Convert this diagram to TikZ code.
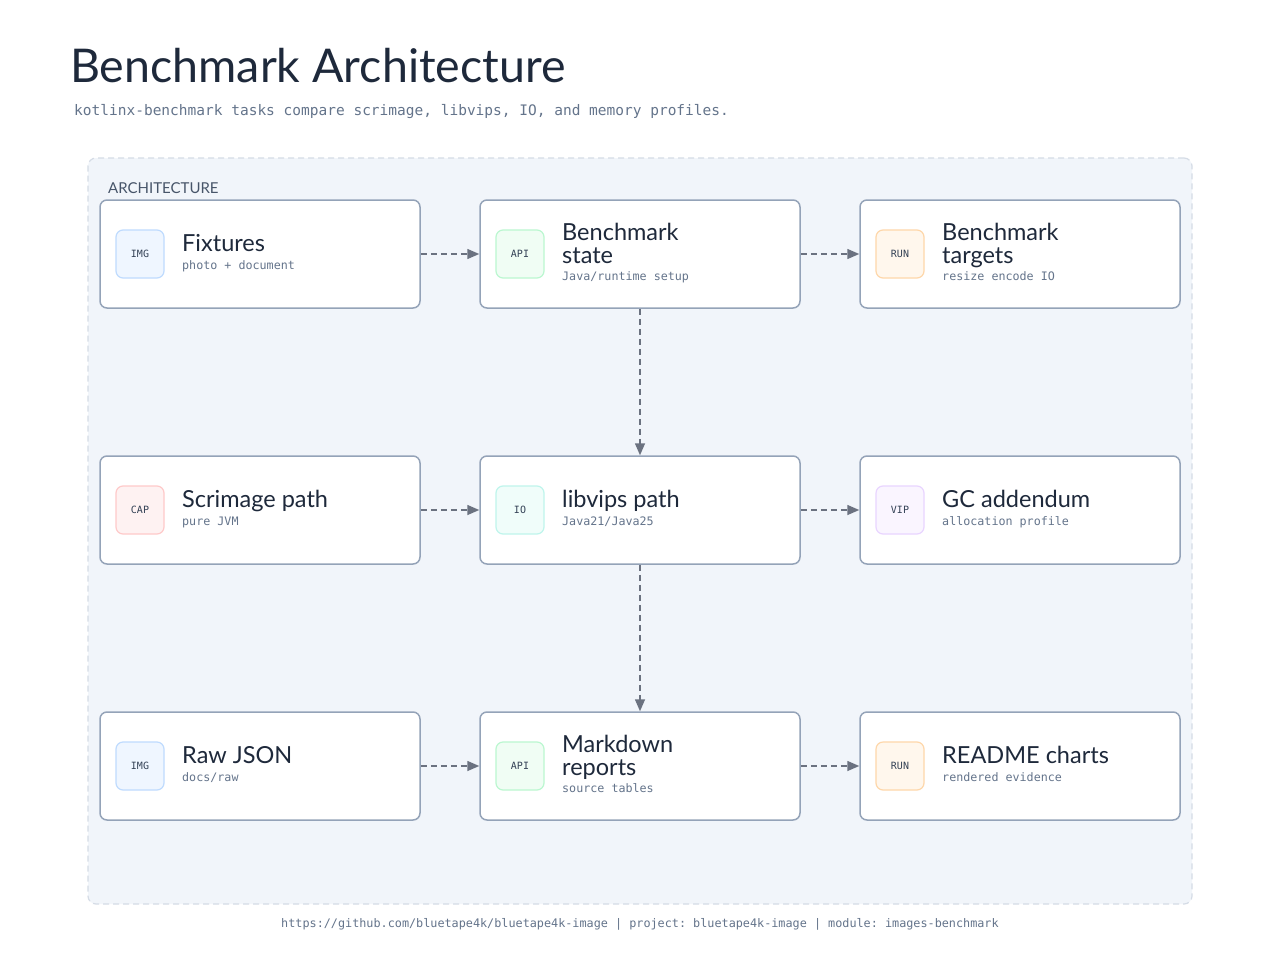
\documentclass[tikz,border=0pt]{standalone}
\usepackage{fontspec}
\setmainfont{Lato}
\setsansfont{Lato}
\setmonofont{DejaVu Sans Mono}
\usetikzlibrary{arrows.meta,calc}
\definecolor{ink}{HTML}{1E293B}
\definecolor{muted}{HTML}{64748B}
\definecolor{cardline}{HTML}{94A3B8}
\definecolor{arrowc}{HTML}{6B7280}
\definecolor{framefill}{HTML}{F1F5FA}
\definecolor{frameline}{HTML}{D5DCE6}
\definecolor{labelc}{HTML}{475569}
\definecolor{icontext}{HTML}{334155}
\definecolor{imgfill}{HTML}{EFF6FF}\definecolor{imgline}{HTML}{BFDBFE}
\definecolor{apifill}{HTML}{F0FDF4}\definecolor{apiline}{HTML}{BBF7D0}
\definecolor{runfill}{HTML}{FFF7ED}\definecolor{runline}{HTML}{FED7AA}
\definecolor{capfill}{HTML}{FEF2F2}\definecolor{capline}{HTML}{FECACA}
\definecolor{iofill}{HTML}{F0FDFA}\definecolor{ioline}{HTML}{BFF5EC}
\definecolor{vipfill}{HTML}{FAF5FF}\definecolor{vipline}{HTML}{E9D5FF}
\newcommand\archcard[9]{%
  \node[card] (#1) at (#2,#3) {};
  \node[iconbox=#5] (#1-icon) at ({#2-120},#3) {#4};
  \node[ttl] (#1-title) at ({#2-78},{#3+#8}) {\begin{tabular}[t]{@{}l@{}}#6\end{tabular}};
  \node[subt] (#1-sub) at ({#2-78},{#3+#9}) {#7};
}
\begin{document}
\begin{tikzpicture}[x=1pt,y=-1pt,
  card/.style={draw=cardline, line width=1.5pt, fill=white, rounded corners=7pt, minimum width=320pt, minimum height=108pt, inner sep=0pt},
  iconbox/.style={draw=#1line, fill=#1fill, line width=1.2pt, rounded corners=7pt, minimum size=48pt, inner sep=0pt, font=\fontsize{10}{12}\ttfamily, text=icontext},
  ttl/.style={font=\fontsize{23.5}{22.7}\selectfont, text=ink, inner sep=0pt, anchor=base west},
  subt/.style={font=\fontsize{11.7}{13}\ttfamily, text=muted, inner sep=0pt, anchor=base west},
  flow/.style={draw=arrowc, line width=1.5pt, dash pattern=on 6pt off 4pt, -{Triangle[length=12pt,width=10pt]}},
  frame/.style={draw=frameline, fill=framefill, line width=1.2pt, dash pattern=on 6pt off 4pt, rounded corners=8pt, minimum width=1104pt, minimum height=746pt, inner sep=0pt},
]
\useasboundingbox (0,0) rectangle (1280,980);
\fill[white] (0,0) rectangle (1280,980);
\node[anchor=base west, font=\fontsize{46.5}{48}\selectfont, text=ink, inner sep=0pt] (title) at (70,82) {Benchmark Architecture};
\node[anchor=base west, font=\fontsize{14.5}{16}\ttfamily, text=muted, inner sep=0pt] (subtitle) at (74,115) {kotlinx-benchmark tasks compare scrimage, libvips, IO, and memory profiles.};
\node[frame] (frame) at (640,531) {};
\node[anchor=base west, font=\fontsize{15}{16}\sffamily, text=labelc, inner sep=0pt] (arch) at (108,193) {ARCHITECTURE};

\archcard{fix}{260}{254}{IMG}{img}{Fixtures}{photo + document}{-2.5}{15}
\archcard{state}{640}{254}{API}{api}{Benchmark\\state}{Java/runtime setup}{-13.5}{26}
\archcard{targets}{1020}{254}{RUN}{run}{Benchmark\\targets}{resize encode IO}{-13.5}{26}
\archcard{scrim}{260}{510}{CAP}{cap}{Scrimage path}{pure JVM}{-2.5}{15}
\archcard{vips}{640}{510}{IO}{io}{libvips path}{Java21/Java25}{-2.5}{15}
\archcard{gc}{1020}{510}{VIP}{vip}{GC addendum}{allocation profile}{-2.5}{15}
\archcard{raw}{260}{766}{IMG}{img}{Raw JSON}{docs/raw}{-2.5}{15}
\archcard{md}{640}{766}{API}{api}{Markdown\\reports}{source tables}{-13.5}{26}
\archcard{readme}{1020}{766}{RUN}{run}{README charts}{rendered evidence}{-2.5}{15}

\draw[flow] (fix.east) -- (state.west);
\draw[flow] (state.east) -- (targets.west);
\draw[flow] (state.south) -- (vips.north);
\draw[flow] (scrim.east) -- (vips.west);
\draw[flow] (vips.east) -- (gc.west);
\draw[flow] (vips.south) -- (md.north);
\draw[flow] (raw.east) -- (md.west);
\draw[flow] (md.east) -- (readme.west);

\node[font=\fontsize{11.8}{13}\ttfamily, text=muted, inner sep=0pt] (footer) at (640,924) {https://github.com/bluetape4k/bluetape4k-image | project: bluetape4k-image | module: images-benchmark};
\end{tikzpicture}
\end{document}
